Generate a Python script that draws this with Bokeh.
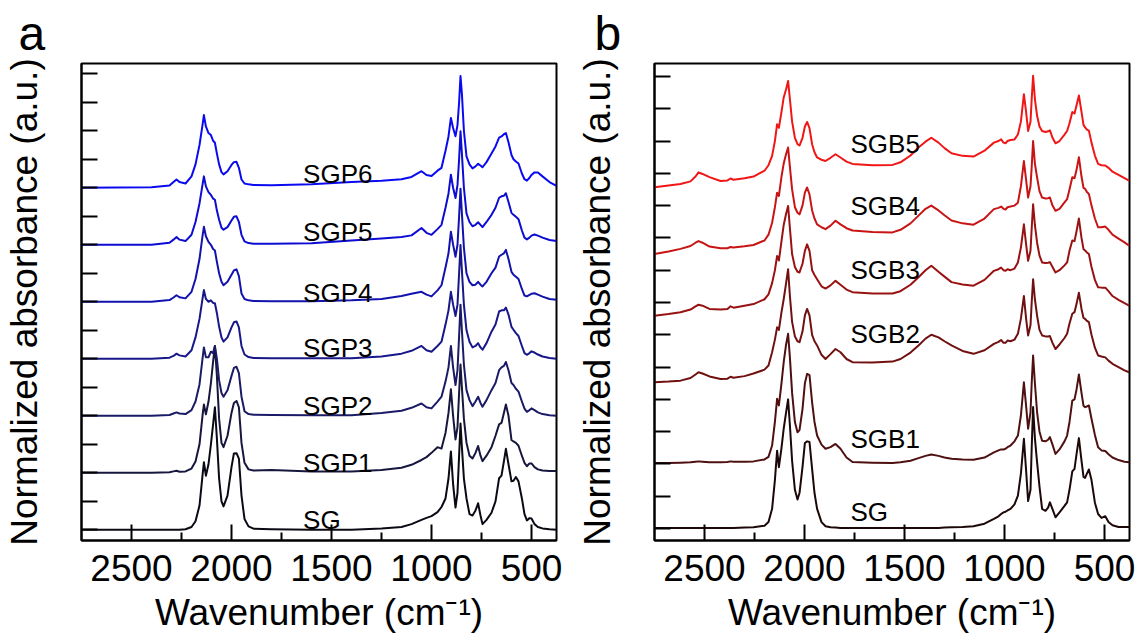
import numpy as np
from bokeh.plotting import figure
from bokeh.layouts import row
from bokeh.models import FixedTicker, Range1d
from bokeh.core.properties import value
from bokeh.embed import file_html
from bokeh.resources import INLINE

FONT = "Liberation Sans"

# ---------------- Panel a data (wavenumber grid, absorbance above each trace's offset) -------------
WN_A = [2750, 2400, 2310, 2290, 2275, 2260, 2230, 2200, 2180, 2160,
        2145, 2138, 2128, 2115, 2103, 2092, 2083, 2073, 2062, 2050,
        2040, 2020, 2000, 1988, 1975, 1963, 1950, 1935, 1915, 1890,
        1800, 1600, 1400, 1250, 1150, 1100, 1050, 1025, 1000, 970,
        950, 930, 915, 903, 892, 880, 870, 862, 855, 848,
        838, 825, 810, 795, 780, 767, 755, 745, 725, 700,
        680, 662, 650, 638, 628, 615, 600, 590, 578, 565,
        548, 535, 523, 510, 500, 485, 468, 445, 410, 375]

SG_A = [0, 0, 0, 0, 0, 0, 0.02, 0.1, 0.3, 0.85,
        1.9, 2.37, 1.9, 2.3, 3.0, 3.7, 4.3, 3.2, 1.8, 1.0,
        0.82, 1.2, 2.2, 2.68, 2.69, 2.5, 1.2, 0.38, 0.12, 0.04,
        0.02, 0, 0, 0.05, 0.1, 0.2, 0.35, 0.42, 0.48, 0.62,
        0.8, 1.1, 1.8, 2.75, 1.6, 0.78, 1.3, 2.6, 3.73, 2.9,
        1.8, 1.1, 0.55, 0.5, 0.68, 0.93, 0.5, 0.2, 0.35, 0.6,
        1.0, 1.81, 1.9, 2.4, 2.84, 2.3, 1.7, 1.72, 1.85, 1.7,
        1.1, 0.55, 0.33, 0.41, 0.4, 0.2, 0.1, 0.05, 0.02, 0]

SGP1_A = [0, 0, 0.02, 0.05, 0.07, 0.04, 0.05, 0.15, 0.4, 1.0,
          2.0, 2.4, 2.05, 2.5, 3.15, 3.9, 4.45, 3.4, 1.9, 1.05,
          0.9, 1.3, 2.1, 2.45, 2.52, 2.3, 1.05, 0.35, 0.12, 0.08,
          0.1, 0.05, 0.05, 0.1, 0.18, 0.28, 0.45, 0.55, 0.7, 0.9,
          0.85, 1.4, 2.1, 2.93, 2.0, 1.17, 1.6, 2.8, 3.8, 3.0,
          1.9, 1.05, 0.6, 0.5, 0.7, 0.94, 0.6, 0.41, 0.6, 0.9,
          1.3, 1.7, 1.75, 2.1, 2.4, 2.0, 1.15, 1.1, 1.05, 0.95,
          0.6, 0.35, 0.23, 0.33, 0.33, 0.2, 0.12, 0.08, 0.06, 0.06]

SGP2_A = [0, 0, 0.03, 0.08, 0.12, 0.08, 0.06, 0.2, 0.5, 1.1,
          2.0, 2.4, 2.05, 2.05, 2.25, 2.2, 2.45, 2.0, 1.25, 0.8,
          0.67, 0.9, 1.4, 1.68, 1.72, 1.5, 0.67, 0.16, 0.06, 0.04,
          0.03, 0.02, 0.02, 0.1, 0.18, 0.28, 0.43, 0.3, 0.26, 0.5,
          0.67, 1.2, 1.7, 2.45, 1.7, 1.08, 1.6, 2.8, 3.9, 3.0,
          1.8, 0.9, 0.55, 0.34, 0.5, 0.67, 0.45, 0.32, 0.55, 0.9,
          1.15, 1.6, 1.7, 1.75, 1.89, 1.6, 1.15, 1.08, 0.95, 0.85,
          0.5, 0.25, 0.14, 0.2, 0.26, 0.2, 0.12, 0.06, 0.02, 0]

SGP3_A = [0, 0, 0.04, 0.1, 0.18, 0.12, 0.08, 0.3, 0.75, 1.4,
          2.1, 2.41, 2.1, 2.0, 2.05, 1.96, 1.95, 1.6, 1.13, 0.75,
          0.6, 0.75, 1.1, 1.28, 1.31, 1.1, 0.45, 0.15, 0.06, 0.03,
          0.02, 0.02, 0.02, 0.08, 0.18, 0.28, 0.45, 0.3, 0.25, 0.45,
          0.6, 1.2, 1.7, 2.35, 1.9, 1.5, 1.9, 3.0, 3.99, 3.1,
          1.9, 1.0, 0.6, 0.4, 0.45, 0.55, 0.4, 0.32, 0.55, 0.95,
          1.2, 1.66, 1.7, 1.7, 1.8, 1.55, 1.12, 1.02, 0.9, 0.8,
          0.45, 0.2, 0.14, 0.2, 0.26, 0.22, 0.15, 0.08, 0.03, 0]

SGP4_A = [0, 0, 0.06, 0.15, 0.23, 0.16, 0.12, 0.35, 0.8, 1.5,
          2.3, 2.63, 2.3, 2.1, 2.0, 1.85, 1.8, 1.4, 1.0, 0.7,
          0.58, 0.7, 0.95, 1.1, 1.14, 0.9, 0.29, 0.1, 0.05, 0.03,
          0.02, 0.02, 0.05, 0.1, 0.2, 0.28, 0.35, 0.25, 0.19, 0.4,
          0.58, 1.2, 1.7, 2.46, 2.0, 1.58, 2.0, 3.0, 3.97, 3.1,
          1.9, 1.0, 0.7, 0.58, 0.6, 0.7, 0.6, 0.54, 0.7, 1.0,
          1.2, 1.59, 1.65, 1.7, 1.82, 1.5, 1.05, 0.95, 0.88, 0.8,
          0.45, 0.22, 0.19, 0.24, 0.28, 0.3, 0.25, 0.18, 0.1, 0.07]

SGP5_A = [0, 0, 0.07, 0.18, 0.27, 0.18, 0.13, 0.35, 0.8, 1.45,
          2.1, 2.4, 2.05, 1.85, 1.75, 1.62, 1.58, 1.2, 0.88, 0.6,
          0.53, 0.62, 0.85, 0.98, 1.0, 0.8, 0.35, 0.12, 0.06, 0.04,
          0.04, 0.05, 0.15, 0.22, 0.27, 0.33, 0.59, 0.42, 0.35, 0.55,
          0.7, 1.3, 1.8, 2.46, 2.0, 1.64, 2.1, 3.0, 3.98, 3.2,
          2.0, 1.1, 0.8, 0.65, 0.7, 0.79, 0.7, 0.62, 0.8, 1.05,
          1.3, 1.65, 1.7, 1.72, 1.81, 1.5, 1.12, 1.05, 0.98, 0.9,
          0.5, 0.25, 0.19, 0.25, 0.32, 0.36, 0.32, 0.25, 0.17, 0.13]

SGP6_A = [0, 0.02, 0.08, 0.2, 0.29, 0.2, 0.15, 0.4, 0.82, 1.5,
          2.2, 2.55, 2.15, 1.92, 1.85, 1.65, 1.58, 1.2, 0.82, 0.55,
          0.47, 0.58, 0.8, 0.9, 0.91, 0.7, 0.29, 0.15, 0.12, 0.1,
          0.09, 0.12, 0.2, 0.25, 0.3, 0.38, 0.58, 0.45, 0.41, 0.6,
          0.7, 1.3, 1.8, 2.45, 2.1, 1.81, 2.2, 3.0, 3.92, 3.3,
          2.0, 1.1, 0.82, 0.68, 0.75, 0.84, 0.78, 0.72, 0.9, 1.2,
          1.45, 1.76, 1.8, 1.88, 1.92, 1.6, 1.15, 1.0, 0.92, 0.85,
          0.5, 0.3, 0.25, 0.35, 0.45, 0.54, 0.54, 0.4, 0.2, 0.07]

NAMES_A = ["SG", "SGP1", "SGP2", "SGP3", "SGP4", "SGP5", "SGP6"]
SERIES_A = [SG_A, SGP1_A, SGP2_A, SGP3_A, SGP4_A, SGP5_A, SGP6_A]
OFFSETS_A = [0, 2, 4, 6, 8, 10, 12]
LABEL_Y_A = [0.33, 2.33, 4.33, 6.37, 8.3, 10.44, 12.5]
LABEL_X_A = 1642
COLORS_A = ["#0a0a14", "#16163e", "#1a1a66", "#17178a", "#1212ae", "#0c0cd2", "#0a0af0"]

# ---------------- Panel b data -------------
WN_B = [2750, 2680, 2620, 2570, 2545, 2530, 2510, 2475, 2420, 2385,
        2370, 2355, 2300, 2255, 2200, 2180, 2162, 2148, 2137, 2128,
        2115, 2104, 2092, 2082, 2073, 2062, 2048, 2035, 2025, 2010,
        1998, 1987, 1975, 1962, 1950, 1937, 1915, 1895, 1870, 1845,
        1820, 1790, 1760, 1660, 1560, 1520, 1470, 1430, 1395, 1366,
        1330, 1300, 1265, 1210, 1155, 1100, 1053, 1030, 1017, 1005,
        995, 985, 970, 950, 933, 918, 903, 892, 882, 870,
        864, 857, 848, 837, 825, 812, 795, 782, 773, 760,
        745, 725, 700, 687, 675, 661, 650, 640, 628, 615,
        605, 597, 588, 578, 565, 548, 532, 515, 496, 480,
        460, 430, 400, 377]

SG_B = [0.02, 0.02, 0.02, 0.02, 0.02, 0.02, 0.02, 0.02, 0.02, 0.02,
        0.02, 0.02, 0.03, 0.04, 0.09, 0.2, 0.61, 1.5, 2.41, 1.9,
        2.5, 3.09, 3.6, 4.0, 3.2, 2.1, 1.2, 0.9, 1.1, 1.9,
        2.65, 2.7, 2.68, 1.85, 1.1, 0.61, 0.2, 0.07, 0.04, 0.03,
        0.02, 0.02, 0.02, 0.02, 0.02, 0.02, 0.02, 0.02, 0.02, 0.02,
        0.02, 0.03, 0.04, 0.05, 0.07, 0.15, 0.3, 0.38, 0.45, 0.5,
        0.52, 0.56, 0.61, 0.75, 1.02, 1.7, 2.78, 1.8, 0.85, 1.2,
        2.5, 3.76, 2.8, 2.05, 1.3, 0.61, 0.55, 0.65, 0.81, 0.6,
        0.35, 0.5, 0.7, 0.81, 1.2, 1.77, 1.85, 2.3, 2.8, 2.1,
        1.6, 1.57, 1.7, 1.83, 1.5, 0.8, 0.45, 0.33, 0.38, 0.2,
        0.1, 0.05, 0.05, 0.05]

SGB1_B = [0.03, 0.03, 0.04, 0.05, 0.07, 0.08, 0.07, 0.05, 0.05, 0.06,
          0.08, 0.07, 0.07, 0.08, 0.14, 0.22, 0.57, 1.3, 2.02, 1.81,
          2.5, 3.15, 3.7, 4.03, 3.3, 2.2, 1.3, 0.98, 1.05, 1.7,
          2.5, 2.79, 2.75, 1.91, 1.3, 0.88, 0.6, 0.47, 0.52, 0.62,
          0.47, 0.2, 0.06, 0.04, 0.03, 0.05, 0.1, 0.18, 0.25, 0.29,
          0.25, 0.2, 0.16, 0.14, 0.13, 0.2, 0.36, 0.42, 0.45, 0.45,
          0.47, 0.52, 0.57, 0.7, 0.88, 1.5, 2.53, 1.8, 1.09, 1.6,
          2.5, 3.36, 2.5, 1.6, 1.0, 0.72, 0.7, 0.75, 0.83, 0.6,
          0.31, 0.45, 0.7, 0.88, 1.3, 1.96, 2.0, 2.3, 2.77, 2.2,
          1.8, 1.76, 1.78, 1.81, 1.4, 0.9, 0.52, 0.42, 0.4, 0.3,
          0.2, 0.12, 0.07, 0.05]

SGB2_B = [0.53, 0.55, 0.58, 0.66, 0.77, 0.84, 0.8, 0.71, 0.63, 0.64,
          0.7, 0.67, 0.72, 0.8, 0.92, 1.05, 1.46, 1.85, 2.23, 2.15,
          2.7, 3.1, 3.6, 4.03, 3.2, 2.4, 1.95, 1.8, 1.77, 2.1,
          2.6, 2.8, 2.6, 2.0, 1.8, 1.67, 1.38, 1.25, 1.4, 1.56,
          1.46, 1.25, 1.15, 1.14, 1.17, 1.25, 1.45, 1.67, 1.88, 2.0,
          1.92, 1.8, 1.67, 1.5, 1.41, 1.52, 1.72, 1.78, 1.84, 1.75,
          1.75, 1.82, 1.8, 1.85, 2.03, 2.5, 3.2, 2.5, 1.98, 2.3,
          3.0, 3.72, 3.1, 2.59, 2.15, 1.98, 1.95, 1.95, 1.96, 1.75,
          1.56, 1.7, 1.9, 2.03, 2.35, 2.65, 2.7, 2.95, 3.3, 2.8,
          2.52, 2.49, 2.43, 2.39, 2.0, 1.6, 1.36, 1.33, 1.3, 1.2,
          1.1, 1.0, 0.9, 0.84]

SGB3_B = [0.59, 0.64, 0.7, 0.78, 0.88, 0.93, 0.9, 0.8, 0.78, 0.8,
          0.88, 0.84, 0.9, 0.95, 1.1, 1.25, 1.6, 2.0, 2.44, 2.3,
          2.9, 3.4, 3.75, 3.99, 3.3, 2.5, 2.1, 1.95, 1.93, 2.2,
          2.6, 2.8, 2.6, 2.0, 1.85, 1.72, 1.5, 1.43, 1.53, 1.67,
          1.55, 1.4, 1.32, 1.28, 1.28, 1.35, 1.55, 1.78, 2.0, 2.14,
          1.95, 1.8, 1.63, 1.56, 1.52, 1.7, 1.98, 2.03, 2.08, 2.0,
          1.98, 2.03, 2.0, 2.05, 2.24, 2.7, 3.42, 2.8, 2.29, 2.6,
          3.3, 4.04, 3.4, 2.85, 2.45, 2.24, 2.22, 2.23, 2.25, 2.1,
          1.93, 2.0, 2.15, 2.24, 2.6, 2.92, 2.9, 3.2, 3.6, 3.0,
          2.65, 2.61, 2.55, 2.5, 2.1, 1.7, 1.47, 1.46, 1.46, 1.35,
          1.2, 1.08, 0.98, 0.9]

SGB4_B = [0.5, 0.58, 0.66, 0.75, 0.85, 0.9, 0.85, 0.73, 0.68, 0.68,
          0.72, 0.7, 0.74, 0.78, 0.92, 1.1, 1.47, 1.95, 2.4, 2.3,
          2.9, 3.3, 3.6, 3.8, 3.2, 2.5, 1.95, 1.78, 1.73, 2.0,
          2.4, 2.56, 2.35, 1.85, 1.6, 1.42, 1.33, 1.27, 1.38, 1.53,
          1.42, 1.3, 1.23, 1.18, 1.17, 1.25, 1.45, 1.69, 1.9, 2.0,
          1.85, 1.7, 1.54, 1.45, 1.41, 1.6, 1.89, 1.93, 1.97, 1.9,
          1.88, 1.95, 1.97, 2.0, 2.09, 2.6, 3.38, 2.8, 2.25, 2.6,
          3.2, 4.0, 3.3, 2.87, 2.45, 2.25, 2.22, 2.23, 2.25, 2.0,
          1.84, 1.9, 2.1, 2.2, 2.5, 2.88, 2.85, 3.1, 3.5, 2.9,
          2.55, 2.52, 2.42, 2.36, 2.0, 1.6, 1.33, 1.33, 1.35, 1.25,
          1.1, 0.98, 0.86, 0.76]

SGB5_B = [0.57, 0.62, 0.67, 0.75, 0.9, 1.03, 0.98, 0.88, 0.76, 0.78,
          0.84, 0.8, 0.85, 0.9, 1.08, 1.25, 1.54, 2.0, 2.52, 2.41,
          2.9, 3.35, 3.6, 3.86, 3.3, 2.6, 2.1, 1.9, 1.86, 2.1,
          2.45, 2.59, 2.4, 1.9, 1.65, 1.49, 1.42, 1.38, 1.48, 1.59,
          1.49, 1.36, 1.29, 1.25, 1.26, 1.34, 1.55, 1.8, 1.98, 2.1,
          1.95, 1.78, 1.62, 1.54, 1.52, 1.7, 1.95, 2.0, 2.05, 1.95,
          1.93, 2.0, 2.03, 2.05, 2.2, 2.6, 3.45, 2.9, 2.31, 2.6,
          3.3, 4.02, 3.3, 2.78, 2.45, 2.31, 2.28, 2.3, 2.33, 2.1,
          1.93, 2.0, 2.2, 2.31, 2.55, 2.9, 2.85, 3.1, 3.41, 2.9,
          2.5, 2.42, 2.35, 2.32, 1.95, 1.55, 1.29, 1.25, 1.24, 1.17,
          1.05, 0.95, 0.85, 0.77]

NAMES_B = ["SG", "SGB1", "SGB2", "SGB3", "SGB4", "SGB5"]
SERIES_B = [SG_B, SGB1_B, SGB2_B, SGB3_B, SGB4_B, SGB5_B]
OFFSETS_B = [0, 2, 4, 6, 8, 10]
LABEL_Y_B = [0.5, 2.78, 6.03, 8.01, 10.0, 11.9]
LABEL_X_B = 1770
COLORS_B = ["#1c0808", "#4e1010", "#701010", "#981212", "#c81414", "#f01616"]

X_MAJOR = [2500, 2000, 1500, 1000, 500]
X_MINOR = [2250, 1750, 1250, 750]
X_TITLE = "Wavenumber (cm\u207b\u00b9)"
Y_TITLE = "Normalized absorbance (a.u.)"


def make_panel(wn, series, offsets, names, colors, label_x, label_y,
               y_lo, y_hi, n_yticks, border_left, border_right, letter, letter_offset):
    p = figure(frame_width=475, frame_height=477,
               x_range=Range1d(2750, 375), y_range=Range1d(y_lo, y_hi),
               output_backend="svg", toolbar_location=None,
               min_border_left=border_left, min_border_right=border_right,
               min_border_top=63, min_border_bottom=104,
               background_fill_color="white", border_fill_color="white",
               outline_line_color="black", outline_line_width=2)
    p.grid.visible = False

    # panel letter as the figure title
    p.title.text = letter
    p.title.text_font = FONT
    p.title.text_font_size = "48px"
    p.title.text_font_style = "normal"
    p.title.text_color = "black"
    p.title.align = "left"
    p.title.offset = letter_offset
    p.title.standoff = 8

    xa = p.xaxis[0]
    xa.ticker = FixedTicker(ticks=X_MAJOR, minor_ticks=X_MINOR)
    xa.major_tick_in = 16
    xa.major_tick_out = 0
    xa.minor_tick_in = 8
    xa.minor_tick_out = 0
    xa.major_tick_line_width = 2
    xa.minor_tick_line_width = 2
    xa.axis_line_width = 2
    xa.major_label_text_font = FONT
    xa.major_label_text_font_size = "37px"
    xa.major_label_text_color = "black"
    xa.major_label_standoff = 14
    xa.axis_label = X_TITLE
    xa.axis_label_text_font = FONT
    xa.axis_label_text_font_size = "37px"
    xa.axis_label_text_font_style = "normal"
    xa.axis_label_text_color = "black"
    xa.axis_label_standoff = 8

    # unlabelled y ticks: drawn as minor ticks so that no empty labels are emitted
    ya = p.yaxis[0]
    ya.ticker = FixedTicker(ticks=[], minor_ticks=list(range(n_yticks)))
    ya.minor_tick_in = 16
    ya.minor_tick_out = 0
    ya.minor_tick_line_width = 2
    ya.minor_tick_line_color = "black"
    ya.major_tick_line_color = None
    ya.axis_line_width = 2
    ya.axis_label = Y_TITLE
    ya.axis_label_text_font = FONT
    ya.axis_label_text_font_size = "37px"
    ya.axis_label_text_font_style = "normal"
    ya.axis_label_text_color = "black"
    ya.axis_label_standoff = 37

    for vals, off, col in zip(series, offsets, colors):
        ys = np.array(vals, dtype=float) + off
        p.line(wn, ys, line_color=col, line_width=2, line_join="round")

    p.text(x=[label_x] * len(names), y=label_y, text=names,
           text_font=value(FONT), text_font_size=value("26px"),
           text_align="left", text_baseline="alphabetic", text_color="black")
    return p


pa = make_panel(WN_A, SERIES_A, OFFSETS_A, NAMES_A, COLORS_A, LABEL_X_A, LABEL_Y_A,
                -0.375, 16.36, 17, 81, 10, "a", -63)
pb = make_panel(WN_B, SERIES_B, OFFSETS_B, NAMES_B, COLORS_B, LABEL_X_B, LABEL_Y_B,
                -0.37, 14.4, 15, 88, 15, "b", -60)

layout = row(pa, pb)
open("out.html", "w").write(file_html(layout, INLINE))
